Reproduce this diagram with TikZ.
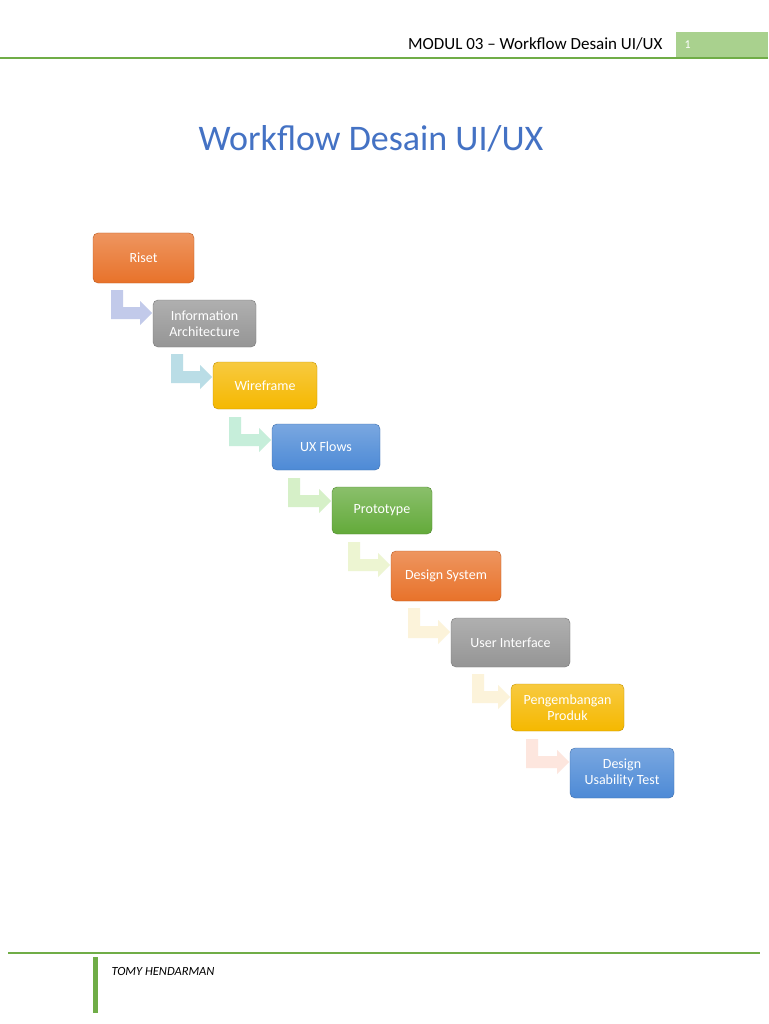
\documentclass[tikz,border=0pt]{standalone}
\usepackage{fontspec}
\setmainfont{Carlito}
\begin{document}
\begin{tikzpicture}[x=1pt,y=-1pt,
  stepbox/.style={rounded corners=5pt,draw=#1!80!black,line width=0.4pt,top color=#1!75!white,bottom color=#1,text=white,font=\fontsize{14}{15.5}\selectfont,align=center,inner sep=0pt},
]
\definecolor{cor}{HTML}{E8722A}
\definecolor{cgr}{HTML}{959595}
\definecolor{cye}{HTML}{F5B800}
\definecolor{cbl}{HTML}{4D8AD6}
\definecolor{cgn}{HTML}{63AA3A}
\definecolor{hgreen}{HTML}{70AD47}
\definecolor{hbox}{HTML}{A9D18E}
\definecolor{ttl}{HTML}{4472C4}
\definecolor{a1}{HTML}{C2CAEA}
\definecolor{a2}{HTML}{BADDE6}
\definecolor{a3}{HTML}{C6EEDA}
\definecolor{a4}{HTML}{D6F0C8}
\definecolor{a5}{HTML}{EDF5D2}
\definecolor{a6}{HTML}{FCF3DA}
\definecolor{a7}{HTML}{FDE6DE}
\useasboundingbox (0,0) rectangle (768,1024);
\fill[white] (0,0) rectangle (768,1024);
% header
\node[anchor=east,font=\fontsize{17}{19}\selectfont] (hdr) at (666,44) {MODUL 03 – Workflow Desain UI/UX};
\node[fill=hbox,minimum width=92pt,minimum height=25pt,anchor=north west,inner sep=0pt] (pg) at (676,32) {};
\node[text=white,font=\fontsize{12}{14}\selectfont,anchor=west] (pgn) at (681,45) {1};
\draw[hgreen,line width=2pt] (0,58) -- (768,58);
% footer
\draw[hgreen,line width=1.5pt] (8,953) -- (760,953);
\fill[hgreen] (93,957) rectangle (98,1013);
\node[anchor=west,font=\fontsize{12.5}{14}\selectfont\itshape] (ft) at (108,971) {TOMY HENDARMAN};
% title
\node[text=ttl,font=\fontsize{36}{40}\selectfont] (title) at (371,139) {Workflow Desain UI/UX};
% bent arrows: \ar{x0}{ytop}{xtip}{ymid}{color}
\def\ar#1#2#3#4#5{%
 \fill[#5] (#1,#2) -- (#1+12,#2) -- (#1+12,#4-6) -- (#3-13,#4-6) -- (#3-13,#4-12) -- (#3-1,#4) -- (#3-13,#4+12) -- (#3-13,#4+6) -- (#1,#4+6) -- cycle;}
\ar{111}{290}{153}{313}{a1}
\ar{171}{354}{213}{377}{a2}
\ar{229}{417}{272}{440}{a3}
\ar{288}{478}{332}{501}{a4}
\ar{348}{542}{391}{565}{a5}
\ar{408}{608}{451}{632}{a6}
\ar{472}{674}{511}{697}{a6}
\ar{526}{739}{570}{762}{a7}
% boxes
\def\bx#1#2#3#4#5#6#7{\node[stepbox=#6,minimum width=#3-#1,minimum height=#4-#2] (#5) at ({(#1+#3)/2},{(#2+#4)/2}) {#7};}
\bx{93}{233}{194}{283}{b1}{cor}{Riset}
\bx{153}{300}{256}{347}{b2}{cgr}{Information\\Architecture}
\bx{213}{362}{317}{409}{b3}{cye}{Wireframe}
\bx{272}{424}{380}{470}{b4}{cbl}{UX Flows}
\bx{332}{487}{432}{534}{b5}{cgn}{Prototype}
\bx{391}{551}{501}{601}{b6}{cor}{Design System}
\bx{451}{618}{570}{667}{b7}{cgr}{User Interface}
\bx{511}{684}{624}{731}{b8}{cye}{Pengembangan\\Produk}
\bx{570}{748}{674}{798}{b9}{cbl}{Design\\Usability Test}
\end{tikzpicture}
\end{document}
